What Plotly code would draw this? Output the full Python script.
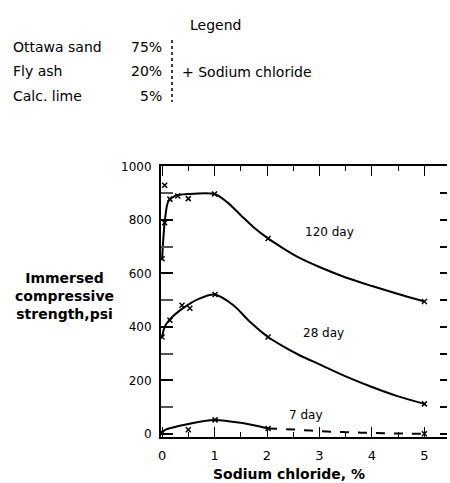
import plotly.graph_objects as go

# ---- data ----
d120_x = [0, 0.05, 0.12, 0.25, 0.5, 1.0, 1.25, 1.5, 1.75, 2.02, 2.3, 2.63, 3.0, 3.5, 4.0, 4.5, 5.0]
d120_y = [650, 790, 870, 890, 897, 897, 865, 818, 772, 731, 695, 657, 624, 585, 553, 523, 495]
d120_mx = [0, 0.05, 0.05, 0.15, 0.3, 0.5, 1.0, 2.02, 5.0]
d120_my = [655, 790, 930, 878, 890, 880, 897, 731, 495]

d28_x = [0, 0.05, 0.15, 0.4, 0.7, 1.0, 1.36, 1.68, 2.02, 2.3, 2.63, 3.0, 3.5, 4.0, 4.5, 5.0]
d28_y = [362, 400, 428, 470, 505, 521, 481, 418, 362, 328, 293, 260, 215, 175, 140, 112]
d28_mx = [0, 0.15, 0.38, 0.53, 1.01, 2.02, 5.0]
d28_my = [362, 425, 481, 470, 521, 362, 112]

d7_x = [0, 0.06, 0.5, 1.0, 1.5, 2.02]
d7_y = [5, 15, 37, 52, 41, 20]
d7_dash_x = [2.02, 2.5, 3.0, 3.5, 4.0, 4.5, 5.0]
d7_dash_y = [20, 16, 10, 6, 3, 1, 0]
d7_mx = [0, 0.5, 1.01, 2.02, 5.0]
d7_my = [5, 15, 52, 20, 0]

x_ticks = [0, 1, 2, 3, 4, 5]
y_ticks = [0, 200, 400, 600, 800, 1000]

legend_rows = [("Ottawa sand", "75%"), ("Fly ash", "20%"), ("Calc. lime", "5%")]
curve_labels = [("120 day", 3.2, 754), ("28 day", 3.07, 377), ("7 day", 2.74, 71)]

FONT = "DejaVu Sans"
W, Hh = 450, 483
L, R, T, B = 161, 447, 166, 437


def px(xp):
    return (xp - L) / (R - L)


def py(yp):
    return (B - yp) / (B - T)


fig = go.Figure()
for xs, ys in [(d120_x, d120_y), (d28_x, d28_y), (d7_x, d7_y)]:
    fig.add_trace(go.Scatter(x=xs, y=ys, mode="lines",
                             line=dict(shape="spline", smoothing=0.8, color="black", width=2),
                             showlegend=False, hoverinfo="skip"))
fig.add_trace(go.Scatter(x=d7_dash_x, y=d7_dash_y, mode="lines",
                         line=dict(color="black", width=2, dash="dash", shape="spline"),
                         showlegend=False, hoverinfo="skip"))
for mx, my in [(d120_mx, d120_my), (d28_mx, d28_my), (d7_mx, d7_my)]:
    fig.add_trace(go.Scatter(x=mx, y=my, mode="markers",
                             marker=dict(symbol="x-thin", size=5, color="black",
                                         line=dict(width=1.5, color="black")),
                             showlegend=False, hoverinfo="skip"))
# invisible trace on right axis for mirrored ticks
fig.add_trace(go.Scatter(x=[0], y=[0], yaxis="y2", mode="markers", marker=dict(opacity=0),
                         showlegend=False, hoverinfo="skip"))

fig.update_layout(
    width=W, height=Hh,
    margin=dict(l=L, r=W - R, t=T, b=Hh - B),
    paper_bgcolor="white", plot_bgcolor="white",
    font=dict(family=FONT, color="black", size=12),
    xaxis=dict(range=[-0.02, 5.43], tickvals=x_ticks, ticktext=[str(v) for v in x_ticks],
               showline=True, linecolor="black", linewidth=1.5, mirror="ticks",
               ticks="inside", ticklen=10, tickcolor="black", tickwidth=1,
               minor=dict(dtick=0.5, ticks="inside", ticklen=5, tickcolor="black"),
               showgrid=False, zeroline=False, tickfont=dict(size=13), ticklabelstandoff=6),
    yaxis=dict(range=[-12, 1002], tickvals=y_ticks, ticktext=[str(v) for v in y_ticks],
               showline=True, linecolor="black", linewidth=2,
               ticks="inside", ticklen=12, tickcolor="black", tickwidth=1.5,
               minor=dict(dtick=100, ticks="inside", ticklen=12, tickcolor="#555"),
               showgrid=False, zeroline=False, tickfont=dict(size=12), ticklabelstandoff=5),
    yaxis2=dict(range=[-12, 1002], overlaying="y", side="right", showline=False,
                dtick=100, ticks="inside", ticklen=7, tickcolor="black", tickwidth=1.5,
                showticklabels=False, showgrid=False, zeroline=False),
)

ann = []


def add_text(xp, yp, text, size=12, anchor="center"):
    ann.append(dict(x=px(xp), y=py(yp), xref="paper", yref="paper", text=text,
                    xanchor=anchor, yanchor="middle", showarrow=False, font=dict(size=size)))


add_text(215, 25, "Legend", size=14)
for i, (name, pct) in enumerate(legend_rows):
    yy = 47 + i * 24.5
    add_text(11, yy, name, size=14, anchor="left")
    add_text(164, yy, pct, size=14, anchor="right")
add_text(180, 72, "+ Sodium chloride", size=14, anchor="left")
add_text(64, 296, "<b>Immersed<br>compressive<br>strength,psi</b>", size=14)
add_text(289, 474, "<b>Sodium chloride, %</b>", size=14)
for txt, xv, yv in curve_labels:
    ann.append(dict(x=xv, y=yv, xref="x", yref="y", text=txt, showarrow=False,
                    xanchor="center", yanchor="middle", font=dict(size=12)))
fig.update_layout(annotations=ann)

fig.add_shape(type="line", xref="paper", yref="paper", x0=px(172), x1=px(172), y0=py(40), y1=py(102),
              line=dict(color="black", width=1.5, dash="dot"))

fig.write_html("out.html")
